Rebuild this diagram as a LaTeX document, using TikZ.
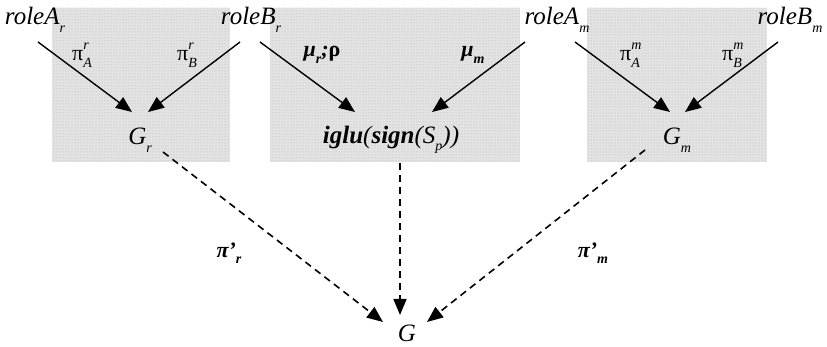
\documentclass[tikz,border=0pt]{standalone}
\usepackage{fontspec}
\setmainfont{Liberation Serif}
\usetikzlibrary{arrows.meta,calc,patterns}
\newcommand{\lbig}{\fontsize{25}{27}\selectfont}
\newcommand{\lmid}{\fontsize{22}{24}\selectfont}
\newcommand{\lsm}{\fontsize{14}{15}\selectfont}
\newcommand{\subx}[1]{\raisebox{-0.3em}{\lsm\itshape #1}}
\newcommand{\supsubx}[2]{\makebox[0pt][l]{\raisebox{0.5em}{\lsm\itshape #1}}\raisebox{-0.3em}{\lsm\itshape #2}}
\tikzset{
  panel/.style={draw=none, fill=black!11, postaction={pattern=dots, pattern color=black!30}},
  big/.style={font=\lbig\itshape, inner sep=1pt},
  lbl/.style={font=\lmid, inner sep=1pt},
  arr/.style={line width=1.4pt, -{Triangle[length=16pt,width=13pt]}},
  darr/.style={line width=1.6pt, dash pattern=on 7pt off 5pt, -{Triangle[length=16pt,width=13pt]}}
}
\begin{document}
\begin{tikzpicture}[x=1pt,y=-1pt]
\useasboundingbox (0,0) rectangle (827,347);
\fill[panel] (52,8) rectangle (230,162);
\fill[panel] (270,8) rectangle (520,162);
\fill[panel] (587,8) rectangle (767,162);

\node[big] (rAr) at (35,20) {roleA\subx{r}};
\node[big] (rBr) at (251,20) {roleB\subx{r}};
\node[big] (rAm) at (557,20) {roleA\subx{m}};
\node[big] (rBm) at (790,20) {roleB\subx{m}};
\node[big] (Gr) at (140,140) {G\subx{r}};
\node[big] (ig) at (391,140) {\bfseries iglu\mdseries(\bfseries sign\mdseries(S\subx{p}))};
\node[big] (Gm) at (677,140) {G\subx{m}};
\node[big] (G) at (407,333) {G};

\node[lbl] (pAr) at (82,55) {π\supsubx{r}{A}};
\node[lbl] (pBr) at (187,55) {π\supsubx{r}{B}};
\node[lbl] (mur) at (322,55) {\bfseries\itshape μ\subx{r}\bfseries;\upshape ρ};
\node[lbl] (mum) at (473,55) {\bfseries\itshape μ\subx{m}};
\node[lbl] (pAm) at (630,55) {π\supsubx{m}{A}};
\node[lbl] (pBm) at (732,55) {π\supsubx{m}{B}};
\node[lbl] (ppr) at (229,253) {\bfseries\itshape π’\subx{r}};
\node[lbl] (ppm) at (593,253) {\bfseries\itshape π’\subx{m}};

\draw[arr] ($(rAr)+(3,22)$) -- ($(Gr)+(-8,-28)$);
\draw[arr] ($(rBr)+(-11,22)$) -- ($(Gr)+(8,-28)$);
\draw[arr] ($(rBr)+(9,22)$) -- ($(ig)+(-36,-28)$);
\draw[arr] ($(rAm)+(-32,22)$) -- ($(ig)+(41,-28)$);
\draw[arr] ($(rAm)+(18,22)$) -- ($(Gm)+(-7,-28)$);
\draw[arr] ($(rBm)+(-12,22)$) -- ($(Gm)+(8,-28)$);

\draw[darr] ($(Gr)+(23,12)$) -- ($(G)+(-24,-11)$);
\draw[darr] ($(ig)+(9,23)$) -- ($(G)+(-7,-18)$);
\draw[darr] ($(Gm)+(-32,10)$) -- ($(G)+(20,-11)$);
\end{tikzpicture}
\end{document}
